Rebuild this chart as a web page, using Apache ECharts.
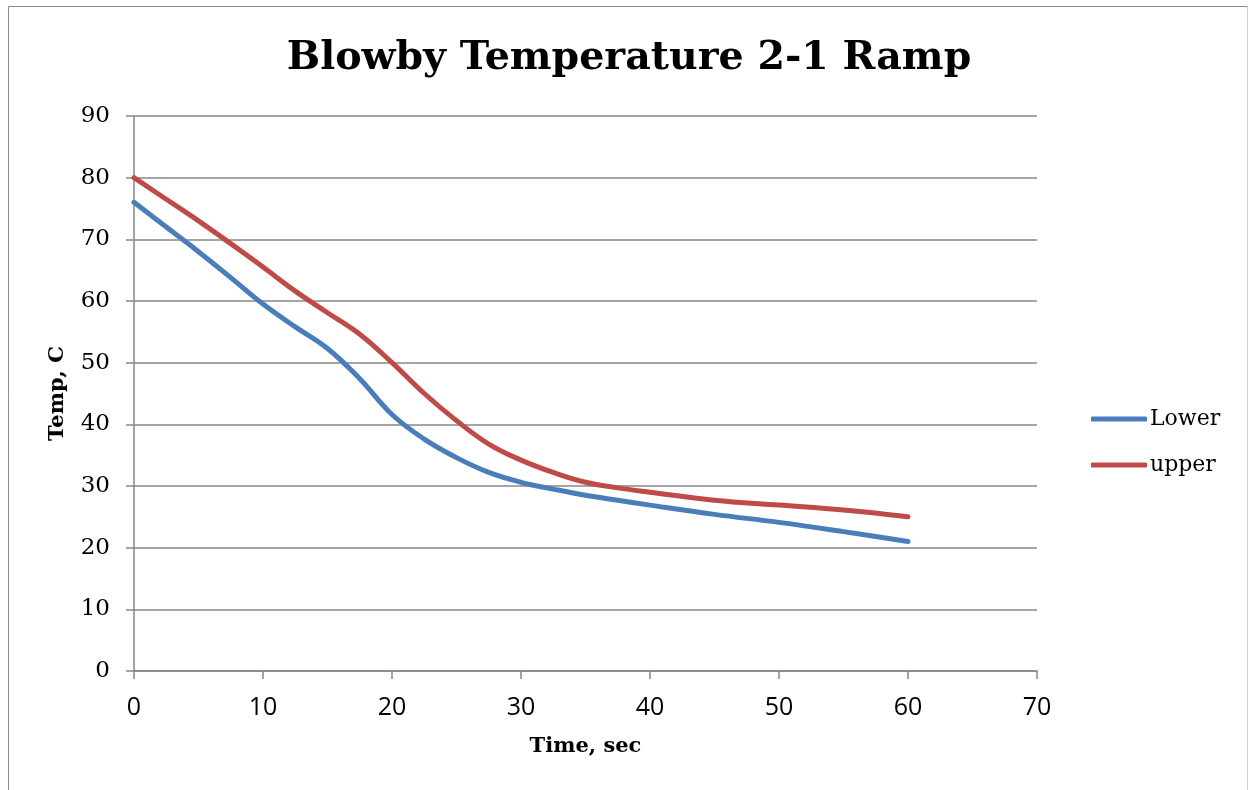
<!DOCTYPE html>
<html>
<head>
<meta charset="utf-8">
<script src="https://cdn.jsdelivr.net/npm/echarts@6/dist/echarts.min.js"></script>
<style>
html,body{margin:0;padding:0;background:#fff;}
#chart{width:1249px;height:790px;}
</style>
</head>
<body>
<div id="chart"></div>
<script>
const chartTitle = 'Blowby Temperature 2-1 Ramp';
const xAxisName = 'Time, sec';
const yAxisName = 'Temp, C';
const seriesNames = ['Lower', 'upper'];
const times =       [0, 2.5, 5, 7.5, 10, 12.5, 15, 17.5, 20, 22.5, 25, 27.5, 30, 32.5, 35, 37.5, 40, 45, 50, 55, 60];
const lowerTemps =  [76, 72, 68, 63.8, 59.5, 55.8, 52.3, 47.4, 41.6, 37.6, 34.6, 32.2, 30.6, 29.5, 28.5, 27.7, 26.9, 25.4, 24.1, 22.6, 21];
const upperTemps =  [80, 76.5, 73, 69.3, 65.5, 61.6, 58.1, 54.6, 50, 45, 40.6, 36.8, 34.2, 32.2, 30.6, 29.7, 29, 27.7, 26.9, 26.1, 25];

const pairs = (xs, ys) => xs.map((x, i) => [x, ys[i]]);
const gridColor = '#878787';

const chart = echarts.init(document.getElementById('chart'), null, {renderer: 'canvas'});
chart.setOption({
  backgroundColor: '#fff',
  animation: false,
  title: {
    text: chartTitle,
    left: 624, top: 34, textAlign: 'center',
    textStyle: {fontFamily: 'DejaVu Serif', fontWeight: 'bold', fontSize: 39.5, color: '#000'}
  },
  graphic: [
    {type: 'line', shape: {x1: 8.5, y1: 6.5, x2: 8.5, y2: 800}, style: {stroke: '#8a8a8a', lineWidth: 1}},
    {type: 'line', shape: {x1: 8.5, y1: 6.5, x2: 1247.5, y2: 6.5}, style: {stroke: '#8a8a8a', lineWidth: 1}},
    {type: 'line', shape: {x1: 1247.5, y1: 6.5, x2: 1247.5, y2: 800}, style: {stroke: '#cfcfcf', lineWidth: 1}}
  ],
  legend: {
    orient: 'vertical',
    left: 1086, top: 403,
    icon: 'roundRect',
    itemWidth: 56, itemHeight: 5,
    itemGap: 24,
    textStyle: {fontFamily: 'DejaVu Serif', fontSize: 22, color: '#000', padding: [0, 0, 0, -2]},
    data: seriesNames
  },
  grid: {left: 134, right: 212, top: 116, bottom: 119, containLabel: false},
  xAxis: {
    type: 'value', min: 0, max: 70, interval: 10,
    name: xAxisName, nameLocation: 'middle', nameGap: 65,
    nameTextStyle: {fontFamily: 'DejaVu Serif', fontWeight: 'bold', fontSize: 21, color: '#000'},
    axisLine: {show: true, lineStyle: {color: gridColor, width: 1.5}},
    axisTick: {show: true, inside: false, length: 8, lineStyle: {color: gridColor, width: 1.5}},
    axisLabel: {margin: 24, fontFamily: 'Open Sans', fontSize: 25, color: '#000'},
    splitLine: {show: false}
  },
  yAxis: {
    type: 'value', min: 0, max: 90, interval: 10,
    name: yAxisName, nameLocation: 'middle', nameGap: 66, nameRotate: 90,
    nameTextStyle: {fontFamily: 'DejaVu Serif', fontWeight: 'bold', fontSize: 21, color: '#000'},
    axisLine: {show: true, lineStyle: {color: gridColor, width: 1.5}},
    axisTick: {show: true, inside: false, length: 8, lineStyle: {color: gridColor, width: 1.5}},
    axisLabel: {margin: 24, fontFamily: 'DejaVu Serif', fontSize: 23, color: '#000'},
    splitLine: {show: true, lineStyle: {color: gridColor, width: 1.5}}
  },
  series: [
    {
      name: seriesNames[0], type: 'line', smooth: 0.4, showSymbol: false, symbol: 'none',
      data: pairs(times, lowerTemps),
      lineStyle: {color: '#4A7EBB', width: 5, cap: 'round'},
      itemStyle: {color: '#4A7EBB'}
    },
    {
      name: seriesNames[1], type: 'line', smooth: 0.4, showSymbol: false, symbol: 'none',
      data: pairs(times, upperTemps),
      lineStyle: {color: '#BE4B48', width: 5, cap: 'round'},
      itemStyle: {color: '#BE4B48'}
    }
  ]
});
</script>
</body>
</html>
